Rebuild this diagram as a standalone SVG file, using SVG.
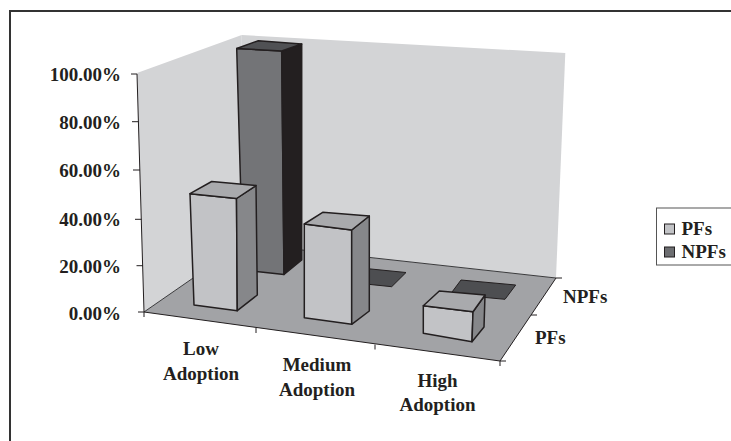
<svg xmlns="http://www.w3.org/2000/svg" width="731" height="441" viewBox="0 0 731 441">
<style>
text{font-family:"Liberation Serif","Times New Roman",serif;font-weight:bold;font-size:19px;fill:#231f20}
.ax{stroke:#231f20;stroke-width:1;fill:none}
.edge{stroke:#3a3a3c;stroke-width:1;fill:none}
.bar{stroke:#231f20;stroke-width:1.5;stroke-linejoin:round}
.pf-front{fill:#c2c3c6}.pf-top{fill:#a9aaad}.pf-side{fill:#86878a}
.npf-front{fill:#737477}.npf-top{fill:#505154}.npf-side{fill:#231f20}
.npf-flat{fill:#4d4e51;stroke:#231f20;stroke-width:1}
</style>
<rect x="10" y="11" width="740" height="450" fill="#ffffff" stroke="#333333" stroke-width="2"/>
<g id="walls">
<polygon points="137,73 241.7,35 243,243.5 144,312" fill="#d3d4d6"/>
<polygon points="241.7,35 565.3,53 556,278 243,243.5" fill="#d3d4d6"/>
<polygon points="243,243.5 556,278 500,361 144,312" fill="#a2a3a6"/>
<polyline class="edge" points="144,312 243,243.5 556,278"/>
<polyline class="ax" points="556,278 500,361 144,312"/>
</g>
<g id="y-axis">
<line class="ax" x1="137" y1="74" x2="144" y2="312"/>
<line class="ax" x1="131" y1="74" x2="137" y2="74"/>
<line class="ax" x1="132" y1="121.7" x2="138.5" y2="121.7"/>
<line class="ax" x1="133" y1="170" x2="140" y2="170"/>
<line class="ax" x1="135" y1="219.3" x2="141.5" y2="219.3"/>
<line class="ax" x1="136.5" y1="265.7" x2="143" y2="265.7"/>
<line class="ax" x1="138" y1="312" x2="144" y2="312"/>
<text x="121" y="81" text-anchor="end">100.00%</text>
<text x="121" y="129" text-anchor="end">80.00%</text>
<text x="121" y="177" text-anchor="end">60.00%</text>
<text x="121" y="226" text-anchor="end">40.00%</text>
<text x="121" y="273" text-anchor="end">20.00%</text>
<text x="121" y="320" text-anchor="end">0.00%</text>
</g>
<g id="x-axis">
<line class="ax" x1="144" y1="312" x2="144" y2="317"/>
<line class="ax" x1="256" y1="328" x2="256" y2="333"/>
<line class="ax" x1="375" y1="344.5" x2="375" y2="349.5"/>
<line class="ax" x1="500" y1="361" x2="500" y2="366"/>
<text x="201" y="355" text-anchor="middle">Low</text>
<text x="201" y="380" text-anchor="middle">Adoption</text>
<text x="317" y="371" text-anchor="middle">Medium</text>
<text x="317" y="396" text-anchor="middle">Adoption</text>
<text x="437.5" y="387" text-anchor="middle">High</text>
<text x="437.5" y="411" text-anchor="middle">Adoption</text>
</g>
<g id="z-axis">
<line class="ax" x1="556" y1="278" x2="562" y2="278"/>
<line class="ax" x1="531" y1="315" x2="537" y2="315"/>
<line class="ax" x1="500" y1="361" x2="506" y2="361"/>
<text x="563" y="303">NPFs</text>
<text x="535" y="344">PFs</text>
</g>
<g id="bar-npf-low">
<polygon class="bar npf-front" points="236.7,48.5 281.7,51 284,274.5 243,270"/>
<polygon class="bar npf-side" points="281.7,51 301.7,44 301.7,260 284,274.5"/>
<polygon class="bar npf-top" points="236.7,48.5 258.3,40.7 301.7,44 281.7,51"/>
</g>
<g id="bar-pf-low">
<polygon class="bar pf-front" points="190,193.7 236.5,198.5 237.3,310.7 194,305"/>
<polygon class="bar pf-side" points="236.5,198.5 256,185.5 257.3,295 237.3,310.7"/>
<polygon class="bar pf-top" points="190,193.7 211.7,181.5 256,185.5 236.5,198.5"/>
</g>
<g id="bar-npf-medium">
<polygon class="npf-flat" points="346,282 361,268 406,272.5 391.7,286.7"/>
</g>
<g id="bar-pf-medium">
<polygon class="bar pf-front" points="304.3,224 351.7,230 351.7,324.3 304.3,317.7"/>
<polygon class="bar pf-side" points="351.7,230 369.3,216 369.3,311 351.7,324.3"/>
<polygon class="bar pf-top" points="304.3,224 322.7,212.3 369.3,216 351.7,230"/>
</g>
<g id="bar-npf-high">
<polygon class="npf-flat" points="450.3,294.3 461,280 515.7,285 505,299.3"/>
</g>
<g id="bar-pf-high">
<polygon class="bar pf-front" points="423.3,305.7 473,311.7 472,341.7 423.3,333.3"/>
<polygon class="bar pf-side" points="473,311.7 485,295 484,327 472,341.7"/>
<polygon class="bar pf-top" points="423.3,305.7 439.3,291 485,295 473,311.7"/>
</g>
<g id="legend">
<rect x="656.5" y="208" width="90" height="57" fill="#ffffff" stroke="#555555" stroke-width="1"/>
<rect x="664.5" y="224" width="10" height="10" fill="#c2c3c6" stroke="#231f20" stroke-width="1"/>
<rect x="664.5" y="247" width="10" height="10" fill="#6d6e71" stroke="#231f20" stroke-width="1"/>
<text x="681.5" y="234.5">PFs</text>
<text x="681.5" y="257.5">NPFs</text>
</g>
</svg>
